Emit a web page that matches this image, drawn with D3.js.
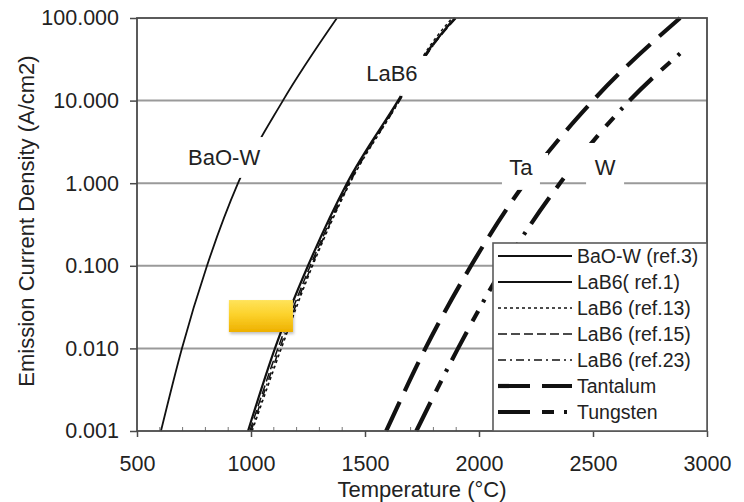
<!DOCTYPE html>
<html><head><meta charset="utf-8">
<script src="https://cdn.jsdelivr.net/npm/d3@7/dist/d3.min.js"></script>
<style>
body{margin:0;background:#fff}
svg{display:block}
text{font-family:"Liberation Sans",Arial,Helvetica,sans-serif;fill:#222}
</style>
</head><body>
<svg id="chart" width="744" height="502"></svg>
<script>
// ---------- data ----------
const xTicks = [500, 1000, 1500, 2000, 2500, 3000];
const xMinorTicks = [600,700,800,900,1100,1200,1300,1400,1600,1700,1800,1900,2100,2200,2300,2400,2600,2700,2800,2900];
const yTicks = [0.001, 0.01, 0.1, 1, 10, 100];
const yTickLabels = ["0.001", "0.010", "0.100", "1.000", "10.000", "100.000"];
const xTitle = "Temperature (°C)";
const yTitle = "Emission Current Density (A/cm2)";

// temperature (°C) / emission current density (A/cm2)
const baowT   = [605, 697, 807, 943, 1140, 1377];
const baowJ   = [0.001, 0.01, 0.1, 1, 10, 100];
const lab6J   = [0.001, 0.01, 0.1, 1, 10, 35.5, 100];
const lab6r1T = [987, 1105, 1250, 1421, 1645, 1763, 1895];
const lab6r13T= [1005, 1133, 1270, 1434, 1650, 1758, 1882];
const lab6r15T= [995, 1118, 1260, 1428, 1648, 1768, 1900];
const lab6r23T= [1000, 1126, 1266, 1432, 1652, 1770, 1890];
const taT     = [1593, 1765, 1965, 2200, 2500, 2882];
const taJ     = [0.001, 0.01, 0.1, 1, 10, 100];
const wT      = [1725, 1908, 2110, 2355, 2660, 2899];
const wJ      = [0.001, 0.01, 0.1, 1, 10, 40.9];

const seriesNames = ["BaO-W (ref.3)", "LaB6( ref.1)", "LaB6 (ref.13)", "LaB6 (ref.15)", "LaB6 (ref.23)", "Tantalum", "Tungsten"];
const seriesT = [baowT, lab6r1T, lab6r13T, lab6r15T, lab6r23T, taT, wT];
const seriesJ = [baowJ, lab6J, lab6J, lab6J, lab6J, taJ, wJ];

// in-plot labels (data coordinates)
const labelText = ["BaO-W", "LaB6", "Ta", "W"];
const labelT    = [882, 1618, 2184, 2553];
const labelJ    = [2.07, 21.6, 1.57, 1.57];
const labelKnockout = [false, false, true, true];

// breaks in the curves next to the labels: [T0, T1, J0, J1]
const curveBreaks = [
  [934, 1066, 1.16, 3.62],
  [1654, 1785, 11.4, 34.7],
  [2114, 2303, 0.83, 2.32],
  [2382, 2513, 1.33, 3.07]
];

// highlighted region (yellow box)
const boxT = [903, 1184];
const boxJ = [0.0158, 0.0385];

// ---------- styles ----------
const styles = {
  "BaO-W (ref.3)": {w: 1.8, dash: null},
  "LaB6( ref.1)":  {w: 2.2, dash: null},
  "LaB6 (ref.13)": {w: 1.5, dash: "3,3"},
  "LaB6 (ref.15)": {w: 1.5, dash: "9,4"},
  "LaB6 (ref.23)": {w: 1.5, dash: "8,4,2,4"},
  "Tantalum":      {w: 4.2, dash: "32,12"},
  "Tungsten":      {w: 4.2, dash: "32,12,12,10,3,10"}
};

// ---------- chart ----------
const svg = d3.select("#chart");
const x = d3.scaleLinear().domain([500, 3000]).range([137, 707]);
const y = d3.scaleLog().domain([0.001, 100]).range([431, 18]);
const defs = svg.append("defs");

// gridlines
svg.append("g").selectAll("line")
  .data(yTicks.filter(d => d > 0.001 && d < 100))
  .join("line")
  .attr("x1", x(500)).attr("x2", x(3000))
  .attr("y1", d => y(d)).attr("y2", d => y(d))
  .attr("stroke", "#9a9a9a").attr("stroke-width", 2);

// minor ticks (inside)
svg.append("g").selectAll("line").data(xMinorTicks).join("line")
  .attr("x1", d => x(d)).attr("x2", d => x(d))
  .attr("y1", y(0.001)).attr("y2", y(0.001) - 4)
  .attr("stroke", "#777").attr("stroke-width", 1);

const lab = labelText.map((t, i) => ({t, T: labelT[i], J: labelJ[i], k: labelKnockout[i]}));

// label knockouts on gridline
svg.append("g").selectAll("rect").data(lab.filter(d => d.k)).join("rect")
  .attr("x", d => x(d.T) - 19).attr("y", d => y(d.J) - 18)
  .attr("width", 38).attr("height", 36)
  .attr("fill", "#fff");

// mask for curve breaks
const mask = defs.append("mask").attr("id", "breaks").attr("maskUnits", "userSpaceOnUse")
  .attr("x", 0).attr("y", 0).attr("width", 744).attr("height", 502);
mask.append("rect").attr("x", 0).attr("y", 0).attr("width", 744).attr("height", 502).attr("fill", "#fff");
mask.selectAll("rect.b").data(curveBreaks).join("rect").attr("class", "b")
  .attr("x", d => x(d[0])).attr("y", d => y(d[3]))
  .attr("width", d => x(d[1]) - x(d[0])).attr("height", d => y(d[2]) - y(d[3]))
  .attr("fill", "#000");

// curves
const line = d3.line()
  .x(d => x(d[0])).y(d => y(d[1]))
  .curve(d3.curveMonotoneX);

const curves = svg.append("g").attr("mask", "url(#breaks)");
seriesNames.forEach((name, i) => {
  const pts = seriesT[i].map((t, j) => [t, seriesJ[i][j]]);
  const st = styles[name];
  curves.append("path")
    .attr("d", line(pts))
    .attr("fill", "none")
    .attr("stroke", "#111")
    .attr("stroke-width", st.w)
    .attr("stroke-dasharray", st.dash)
    .attr("stroke-linecap", "butt");
});

// frame
svg.append("rect")
  .attr("x", x(500)).attr("y", y(100))
  .attr("width", x(3000) - x(500)).attr("height", y(0.001) - y(100))
  .attr("fill", "none").attr("stroke", "#4a4a4a").attr("stroke-width", 1.8);

// axes
const yAxis = svg.append("g").attr("transform", `translate(${x(500)},0)`)
  .call(d3.axisLeft(y).tickValues(yTicks).tickFormat((d, i) => yTickLabels[i]).tickSize(7).tickPadding(11));
const xAxis = svg.append("g").attr("transform", `translate(0,${y(0.001)})`)
  .call(d3.axisBottom(x).tickValues(xTicks).tickFormat(d3.format("d")).tickSize(6).tickPadding(19));
[yAxis, xAxis].forEach(a => {
  a.select(".domain").remove();
  a.selectAll(".tick line").attr("stroke", "#4a4a4a").attr("stroke-width", 1.5);
  a.selectAll(".tick text").attr("font-size", 21.5).attr("fill", "#222")
    .attr("font-family", '"Liberation Sans",Arial,sans-serif');
});

// axis titles
svg.append("text").attr("x", 422).attr("y", 497).attr("text-anchor", "middle")
  .attr("font-size", 22).text(xTitle);
svg.append("text").attr("transform", "translate(34,221) rotate(-90)").attr("text-anchor", "middle")
  .attr("font-size", 22).text(yTitle);

// in-plot labels
svg.append("g").selectAll("text").data(lab).join("text")
  .attr("x", d => x(d.T)).attr("y", d => y(d.J)).attr("dy", "0.36em")
  .attr("text-anchor", "middle").attr("font-size", 22).text(d => d.t);

// yellow box
const grad = defs.append("linearGradient").attr("id", "yg").attr("x1", 0).attr("x2", 0).attr("y1", 0).attr("y2", 1);
grad.append("stop").attr("offset", "0%").attr("stop-color", "#ffe35a");
grad.append("stop").attr("offset", "45%").attr("stop-color", "#fcd22c");
grad.append("stop").attr("offset", "100%").attr("stop-color", "#eeb000");
const sh = defs.append("filter").attr("id", "sh").attr("x", "-20%").attr("y", "-20%").attr("width", "150%").attr("height", "160%");
sh.append("feDropShadow").attr("dx", 1).attr("dy", 2).attr("stdDeviation", 1.5).attr("flood-color", "#000").attr("flood-opacity", 0.25);
svg.append("rect")
  .attr("x", x(boxT[0])).attr("y", y(boxJ[1]))
  .attr("width", x(boxT[1]) - x(boxT[0])).attr("height", y(boxJ[0]) - y(boxJ[1]))
  .attr("fill", "url(#yg)").attr("filter", "url(#sh)");

// legend
const legX0 = 493, legY0 = 243;
const leg = svg.append("g");
leg.append("rect")
  .attr("x", legX0).attr("y", legY0)
  .attr("width", x(3000) - legX0).attr("height", y(0.001) - legY0)
  .attr("fill", "#fff").attr("stroke", "#5a5a5a").attr("stroke-width", 1.6);
seriesNames.forEach((name, i) => {
  const cy = legY0 + 13 + i * 26;
  const st = styles[name];
  leg.append("line")
    .attr("x1", legX0 + 5).attr("x2", legX0 + 79)
    .attr("y1", cy).attr("y2", cy)
    .attr("stroke", "#111").attr("stroke-width", st.w)
    .attr("stroke-dasharray", st.dash);
  leg.append("text").attr("x", legX0 + 84).attr("y", cy).attr("dy", "0.36em")
    .attr("font-size", 19.5).text(name);
});
</script>
</body></html>
